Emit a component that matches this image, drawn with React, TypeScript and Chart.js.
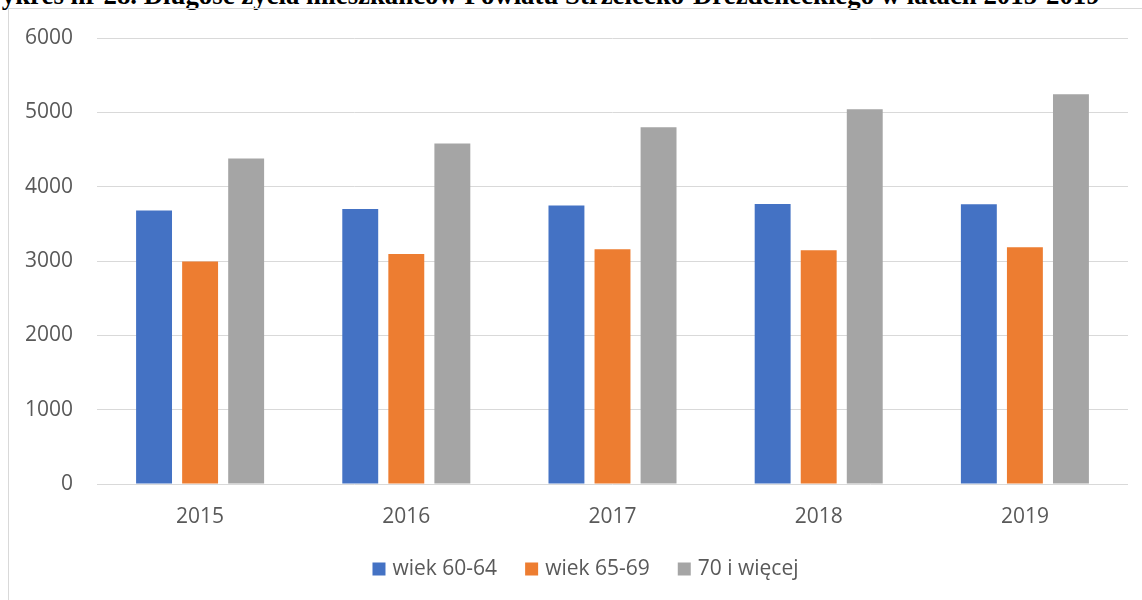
import React, { useEffect, useRef } from "react";
import { Chart, registerables } from "chart.js";

Chart.register(...registerables);

const categories = ["2015", "2016", "2017", "2018", "2019"];
const seriesNames = ["wiek 60-64", "wiek 65-69", "70 i więcej"];
const age6064 = [3678, 3701, 3745, 3767, 3763];
const age6569 = [2992, 3095, 3158, 3144, 3184];
const age70plus = [4378, 4580, 4799, 5041, 5243];
const colors = ["#4472C4", "#ED7D31", "#A5A5A5"];
const yTicks = [0, 1000, 2000, 3000, 4000, 5000, 6000];
const titleText =
  "Wykres nr 28. Długość życia mieszkańców Powiatu Strzelecko-Drezdeneckiego w latach 2015-2019";

const FONT = "'Open Sans', sans-serif";
const TEXT = "#595959";

// nudges the legend's box so that its centred row sits where the reference has it
const legendShift = {
  id: "legendShift",
  afterLayout(chart: any) {
    if (chart.legend) chart.legend.left += 37.5;
  },
};

export default function App() {
  const ref = useRef<HTMLCanvasElement | null>(null);

  useEffect(() => {
    if (!ref.current) return;
    const chart = new Chart(ref.current, {
      type: "bar",
      data: {
        labels: categories,
        datasets: [age6064, age6569, age70plus].map((d, i) => ({
          label: seriesNames[i],
          data: d,
          backgroundColor: colors[i],
          borderWidth: 0,
          categoryPercentage: 0.67,
          barPercentage: 0.78,
        })),
      },
      plugins: [legendShift],
      options: {
        animation: false,
        responsive: false,
        maintainAspectRatio: false,
        layout: { padding: { left: 0, right: 14, top: 29, bottom: 10.5 } },
        plugins: {
          title: { display: false },
          tooltip: { enabled: false },
          legend: {
            position: "bottom",
            labels: {
              usePointStyle: true,
              pointStyle: "rect",
              boxWidth: 6,
              boxHeight: 13,
              padding: 31.5,
              color: TEXT,
              font: { family: FONT, size: 21 },
            },
          },
        },
        scales: {
          x: {
            grid: { display: false, drawTicks: false },
            border: { display: false },
            ticks: {
              color: TEXT,
              padding: 20,
              font: { family: FONT, size: 21 },
            },
            afterFit: (s: any) => {
              s.height = 43;
            },
          },
          y: {
            min: 0,
            max: 6000,
            afterBuildTicks: (s: any) => {
              s.ticks = yTicks.map((v) => ({ value: v }));
            },
            grid: { color: "#D9D9D9", lineWidth: 1, drawTicks: false },
            border: { display: false },
            ticks: {
              color: TEXT,
              padding: 24,
              font: { family: FONT, size: 21 },
              callback: (v: any) => String(v),
            },
            afterFit: (s: any) => {
              s.width = 88;
              s.paddingTop = 0;
              s.paddingBottom = 0;
            },
          },
        },
      },
    } as any);
    return () => chart.destroy();
  }, []);

  return (
    <div
      style={{
        position: "fixed",
        left: 0,
        top: 0,
        width: 1142,
        height: 600,
        overflow: "hidden",
        background: "#fff",
      }}
    >
      <div
        style={{
          position: "absolute",
          left: -24,
          top: -18,
          whiteSpace: "nowrap",
          fontFamily: "'Liberation Serif', 'Times New Roman', serif",
          fontWeight: "bold",
          fontSize: 26.8,
          lineHeight: "27px",
          color: "#000",
        }}
      >
        {titleText}
      </div>
      <div
        style={{
          position: "absolute",
          left: 8,
          top: 8,
          width: 1200,
          height: 700,
          borderLeft: "1px solid #D9D9D9",
          borderTop: "1px solid #D9D9D9",
        }}
      />
      <canvas
        ref={ref}
        width={1133}
        height={591}
        style={{ position: "absolute", left: 9, top: 9, width: 1133, height: 591 }}
      />
    </div>
  );
}
